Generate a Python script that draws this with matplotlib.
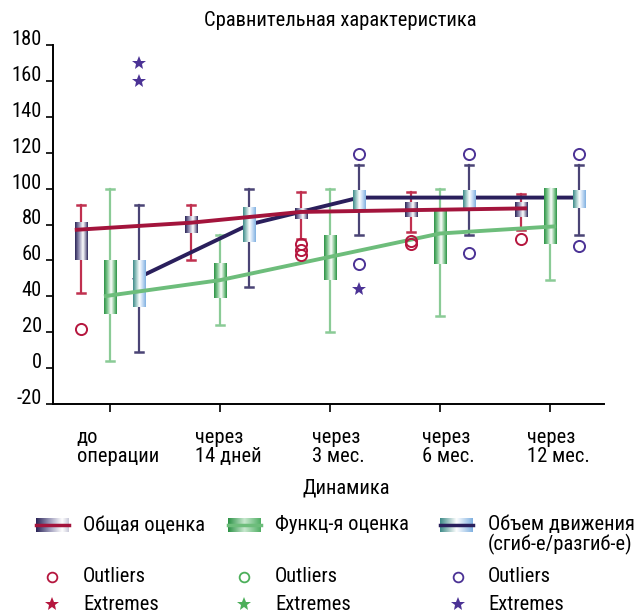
import numpy as np
import matplotlib
matplotlib.use('Agg')
import matplotlib.pyplot as plt
from matplotlib.colors import LinearSegmentedColormap
from matplotlib import transforms
from matplotlib import font_manager as fm

# pick a condensed font if one is installed
names = {f.name for f in fm.fontManager.ttflist}
chosen = None
for cand in ['Liberation Sans Narrow', 'Roboto Condensed', 'Open Sans Condensed', 'Noto Sans Condensed',
             'DejaVu Sans Condensed']:
    if cand in names:
        chosen = cand
        break
if chosen:
    plt.rcParams['font.family'] = [chosen, 'DejaVu Sans']
else:
    plt.rcParams['font.family'] = ['DejaVu Sans']
    plt.rcParams['font.stretch'] = 'condensed'

# ---------------- data ----------------
categories = ['до\nоперации', 'через\n14 дней', 'через\n3 мес.', 'через\n6 мес.', 'через\n12 мес.']
series_names = ['Общая оценка', 'Функц-я оценка', 'Объем движения\n(сгиб-е/разгиб-е)']
title = 'Сравнительная характеристика'
xlabel = 'Динамика'
yticks = [-20, 0, 20, 40, 60, 80, 100, 120, 140, 160, 180]

# Общая оценка
obsh_lo = [42, 60, 72, 76, 77]
obsh_q1 = [60, 75, 83, 84, 84]
obsh_med = [77, 81, 87, 88, 89]
obsh_q3 = [81, 84, 89, 92, 92]
obsh_hi = [91, 91, 98, 98, 97]
obsh_out = [[22], [], [69, 66, 63], [71, 69], [72]]
obsh_ext = [[], [], [], [], []]

# Функц-я оценка
func_lo = [4, 24, 20, 29, 49]
func_q1 = [30, 39, 49, 58, 69]
func_med = [40, 49, 62, 75, 79]
func_q3 = [60, 58, 74, 88, 100]
func_hi = [100, 74, 100, 100, 100]
func_out = [[], [], [], [], []]
func_ext = [[], [], [], [], []]

# Объем движения
obem_lo = [9, 45, 74, 74, 74]
obem_q1 = [34, 70, 88, 89, 89]
obem_med = [49, 80, 95, 95, 95]
obem_q3 = [60, 89, 99, 99, 99]
obem_hi = [91, 100, 113, 113, 113]
obem_out = [[], [], [119, 58], [119, 64], [119, 68]]
obem_ext = [[170, 160], [], [44], [], []]

# ---------------- styles ----------------
navy = '#2a2356'
cm_red = LinearSegmentedColormap.from_list('r', [(0, navy), (0.3, '#8f8cb0'), (0.62, '#ffffff'), (0.85, '#8a88a8'), (1, navy)])
cm_green = LinearSegmentedColormap.from_list('g', [(0, '#2b9245'), (0.25, '#7cc48c'), (0.55, '#ffffff'), (0.85, '#6dbb7e'), (1, '#2b9245')])
cm_blue = LinearSegmentedColormap.from_list('b', [(0, '#3d8a87'), (0.25, '#9cc8c6'), (0.5, '#ffffff'), (0.8, '#b5d2f0'), (1, '#7fb0e0')])

series = [
    dict(lo=obsh_lo, q1=obsh_q1, med=obsh_med, q3=obsh_q3, hi=obsh_hi, out=obsh_out, ext=obsh_ext,
         cmap=cm_red, whisk='#c0304f', line='#a3143c', mark='#b5163e', lz=4,
         lcm=LinearSegmentedColormap.from_list('rl', [(0, navy), (0.4, '#9a98b8'), (0.8, '#ffffff'), (1, '#c8c8d8')])),
    dict(lo=func_lo, q1=func_q1, med=func_med, q3=func_q3, hi=func_hi, out=func_out, ext=func_ext,
         cmap=cm_green, whisk='#8acb96', line='#6dbd7b', mark='#4caf5a', lz=4,
         lcm=LinearSegmentedColormap.from_list('gl', [(0, '#2b9245'), (0.5, '#c8e8cf'), (1, '#4fae63')])),
    dict(lo=obem_lo, q1=obem_q1, med=obem_med, q3=obem_q3, hi=obem_hi, out=obem_out, ext=obem_ext,
         cmap=cm_blue, whisk='#4a4475', line='#2a1f5c', mark='#4b3295', lz=2,
         lcm=LinearSegmentedColormap.from_list('bl', [(0, '#3d8a87'), (0.5, '#ffffff'), (1, '#7fb0e0')])),
]

offsets = [-0.265, 0.0, 0.265]
box_w = 0.11
cap_w = 0.075
fs = 14.8

W, H = 635, 615
fig = plt.figure(figsize=(W / 100, H / 100), dpi=100)
ax = fig.add_axes([53 / W, (H - 404) / H, (604 - 53) / W, (404 - 45) / H])
ax.set_xlim(-0.518, 4.49)
ax.set_ylim(-20, 180)

grad = np.linspace(0, 1, 128).reshape(1, -1)
xs = np.arange(len(categories))

for s, off in zip(series, offsets):
    for i in xs:
        x = i + off
        ax.plot([x, x], [s['lo'][i], s['hi'][i]], color=s['whisk'], lw=1.6, zorder=1.5)
        for yv in (s['lo'][i], s['hi'][i]):
            ax.plot([x - cap_w / 2, x + cap_w / 2], [yv, yv], color=s['whisk'], lw=1.8, zorder=1.5)
        ax.imshow(grad, extent=[x - box_w / 2, x + box_w / 2, s['q1'][i], s['q3'][i]],
                  aspect='auto', cmap=s['cmap'], interpolation='bilinear', zorder=3)
        if s['out'][i]:
            ax.plot([x] * len(s['out'][i]), s['out'][i], 'o', ms=8, mfc='none', mec=s['mark'], mew=1.4, zorder=5)
        if s['ext'][i]:
            ax.plot([x] * len(s['ext'][i]), s['ext'][i], '*', ms=10, color=s['mark'], mew=0, zorder=5)
    lx = (xs + off).astype(float)
    lx[0] -= box_w / 2
    lx[-1] += box_w / 2
    ax.plot(lx, s['med'], color=s['line'], lw=2.8, zorder=s['lz'], solid_capstyle='butt')

ax.set_xlim(-0.518, 4.49)
ax.set_ylim(-20, 180)

for sp in ('top', 'right'):
    ax.spines[sp].set_visible(False)
for sp in ('left', 'bottom'):
    ax.spines[sp].set_linewidth(1.4)
ax.set_yticks(yticks)
ax.set_yticklabels([str(v) for v in yticks], fontsize=fs)
for lab in ax.get_yticklabels():
    lab.set_va('baseline')
    lab.set_transform(lab.get_transform() + transforms.ScaledTranslation(0, -3 / 100, fig.dpi_scale_trans))
ax.tick_params(axis='y', direction='out', length=5, width=1.2, pad=3)
ax.set_xticks(xs)
ax.set_xticklabels([''] * len(xs))
ax.tick_params(axis='x', direction='out', length=6, width=1.2)

tr = transforms.blended_transform_factory(ax.transData, ax.transAxes)
for i, c in enumerate(categories):
    ax.text(i + 8 / 110, -24 / 359, c, transform=tr, ha='center', va='top', multialignment='left',
            fontsize=fs, linespacing=1.0)

fig.text(340 / W, 1 - 20 / H, title, ha='center', va='center', fontsize=fs)
fig.text(346 / W, 1 - 488 / H, xlabel, ha='center', va='center', fontsize=fs)

# ---------------- legend ----------------
lg = fig.add_axes([0, 0, 1, 1])
lg.set_xlim(0, W)
lg.set_ylim(H, 0)
lg.axis('off')
lg.patch.set_alpha(0)
patch_x = [36, 228, 440]
text_x = [83, 275, 488]
mark_x = [52, 244, 458]
for s, name, px, tx, mx in zip(series, series_names, patch_x, text_x, mark_x):
    lg.imshow(grad, extent=[px, px + 33, 532, 518], aspect='auto', cmap=s['lcm'], interpolation='bilinear')
    lg.plot([px, px + 33], [525, 525], color=s['line'], lw=2.5)
    multi = '\n' in name
    lg.text(tx, 525, name, ha='left', va='top' if multi else 'center', fontsize=fs,
            linespacing=1.0,
            transform=lg.transData + transforms.ScaledTranslation(0, 10 / 100 if multi else 0, fig.dpi_scale_trans))
    lg.plot([mx], [577], 'o', ms=7, mfc='none', mec=s['mark'], mew=1.3)
    lg.text(tx, 577, 'Outliers', ha='left', va='center', fontsize=fs)
    lg.plot([mx], [604], '*', ms=10, color=s['mark'], mew=0)
    lg.text(tx, 604, 'Extremes', ha='left', va='center', fontsize=fs)
lg.set_xlim(0, W)
lg.set_ylim(H, 0)

fig.savefig('out.png', dpi=100)
